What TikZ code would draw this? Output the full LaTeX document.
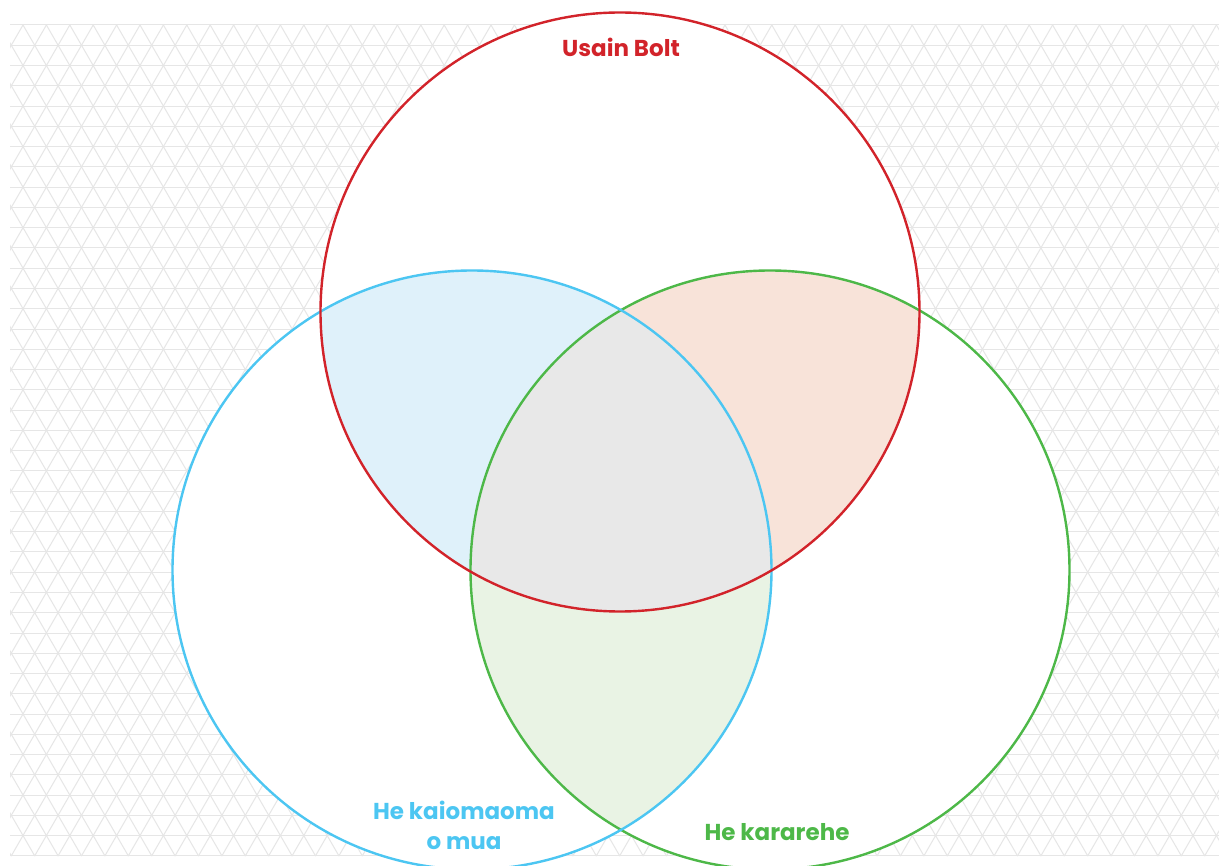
\documentclass[tikz,border=0pt]{standalone}
\usepackage{fontspec}
\setmainfont{Poppins}
\definecolor{cred}{HTML}{D2232A}
\definecolor{cblue}{HTML}{4CC6F2}
\definecolor{cgreen}{HTML}{4DB848}
\definecolor{fblue}{HTML}{DFF1FA}
\definecolor{fpeach}{HTML}{F8E3D9}
\definecolor{fgreen}{HTML}{E9F3E4}
\definecolor{fgray}{HTML}{E8E8E8}
\definecolor{gridc}{HTML}{E6E6E6}
\tikzset{
  gridline/.style={draw=gridc, line width=1pt},
  ring/.style={line width=2.4pt},
  lbl/.style={font=\fontsize{23}{30}\selectfont\bfseries, inner sep=0pt}
}
\begin{document}
\begin{tikzpicture}[x=1pt,y=-1pt]
\useasboundingbox (0,0) rectangle (1219,866);
\fill[white] (0,0) rectangle (1219,866);
% background triangular grid
\begin{scope}
\clip (10,25) rectangle (1219,856);
\foreach \i in {0,...,41} \draw[gridline] (10,{25+\i*20.268}) -- (1219,{25+\i*20.268});
\foreach \k in {-22,...,73} {
  \draw[gridline] ({23+\k*23.4},25) -- ++(479.8,831);
  \draw[gridline] ({23+\k*23.4},25) -- ++(-479.8,831);
}
\end{scope}
\coordinate (R) at (620,312);
\coordinate (B) at (472,570);
\coordinate (G) at (770,570);
% white union
\fill[white] (R) circle[radius=299.5];
\fill[white] (B) circle[radius=299.5];
\fill[white] (G) circle[radius=299.5];
% pairwise
\begin{scope}\clip (B) circle[radius=299.5]; \fill[fblue] (R) circle[radius=299.5];\end{scope}
\begin{scope}\clip (R) circle[radius=299.5]; \fill[fpeach] (G) circle[radius=299.5];\end{scope}
\begin{scope}\clip (B) circle[radius=299.5]; \fill[fgreen] (G) circle[radius=299.5];\end{scope}
\begin{scope}\clip (B) circle[radius=299.5]; \clip (R) circle[radius=299.5]; \fill[fgray] (G) circle[radius=299.5];\end{scope}
% outlines
\draw[ring, cgreen] (G) circle[radius=299.5];
\draw[ring, cblue] (B) circle[radius=299.5];
\draw[ring, cred] (R) circle[radius=299.5];
% labels
\node[lbl, text=cred] (bolt) at (621,47) {Usain Bolt};
\node[lbl, text=cblue, align=center] (kai) at (464,825) {He kaiomaoma\\o mua};
\node[lbl, text=cgreen] (kar) at (777,832) {He kararehe};
\end{tikzpicture}
\end{document}
